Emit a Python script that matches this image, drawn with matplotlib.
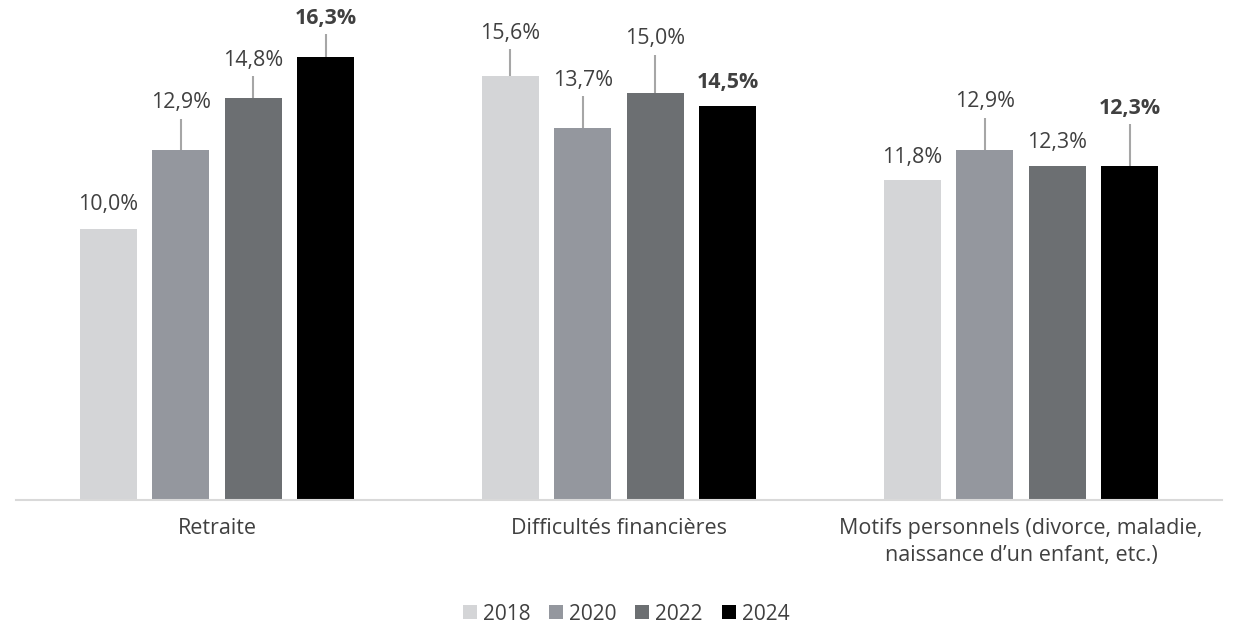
import matplotlib.pyplot as plt
from matplotlib.patches import Patch
import numpy as np

# DATA
categories = ["Retraite", "Difficultés financières",
              "Motifs personnels (divorce, maladie,\nnaissance d\u2019un enfant, etc.)"]
years = ["2018", "2020", "2022", "2024"]
values = {
    "2018": [10.0, 15.6, 11.8],
    "2020": [12.9, 13.7, 12.9],
    "2022": [14.8, 15.0, 12.3],
    "2024": [16.3, 14.5, 12.3],
}

# STYLE
COLORS = ["#d4d5d7", "#94979e", "#6c6f72", "#000000"]
TEXT = "#404040"
LEAD = "#a6a6a6"
# label lift above bar top (pixels), per year then category
LIFT = [[24, 43, 22], [47, 48, 48], [38, 54, 24], [39, 24, 58]]

plt.rcParams['font.family'] = ['Open Sans', 'DejaVu Sans']

DPI = 100
fig = plt.figure(figsize=(12.37, 6.25), dpi=DPI)
ax = fig.add_axes([16 / 1237, 125 / 625, 1206 / 1237, 500 / 625])

x = np.arange(len(categories))
step = 0.18
width = 0.141
px_per_unit = 27.15
ax.set_xlim(-0.5, len(categories) - 0.5)
ax.set_ylim(0, 500 / px_per_unit)

for i, yr in enumerate(years):
    xs = x + (i - 1.5) * step
    ax.bar(xs, values[yr], width=width, color=COLORS[i], zorder=2)
    bold = yr == years[-1]
    for j, (xv, v) in enumerate(zip(xs, values[yr])):
        lift = LIFT[i][j]
        ly = v + lift / px_per_unit
        ax.text(xv, ly, f"{v:.1f}%".replace(".", ","), ha='center', va='center',
                fontsize=15.4, color=TEXT, fontweight='bold' if bold else 'normal')
        if lift > 30:
            ax.plot([xv, xv], [v, ly - 16 / px_per_unit], color=LEAD, lw=1.5,
                    zorder=1, solid_capstyle='butt')

for s in ['top', 'right', 'left']:
    ax.spines[s].set_visible(False)
ax.spines['bottom'].set_color('#d9d9d9')
ax.spines['bottom'].set_linewidth(1.5)
ax.set_yticks([])
ax.set_xticks(x)
ax.set_xticklabels(categories, fontsize=15.5, color=TEXT, linespacing=1.4)
ax.tick_params(axis='x', length=0, pad=13)

handles = [Patch(facecolor=c, edgecolor='none') for c in COLORS]
fig.legend(handles, years, loc='center', bbox_to_anchor=(626 / 1237, 1 - 614 / 625),
           ncol=4, frameon=False, fontsize=15, labelcolor=TEXT,
           handlelength=0.67, handleheight=0.67, handletextpad=0.29, columnspacing=0.9)

plt.savefig("out.png", dpi=DPI)
plt.close()
